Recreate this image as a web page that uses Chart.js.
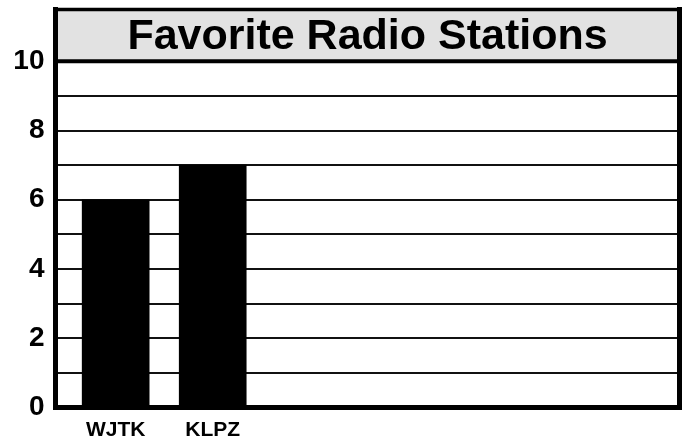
<!DOCTYPE html>
<html>
<head>
<meta charset="utf-8">
<script src="https://cdn.jsdelivr.net/npm/chart.js@4/dist/chart.umd.min.js"></script>
<style>
  html, body { margin: 0; padding: 0; background: #ffffff; }
  #wrap { width: 686px; height: 440px; }
</style>
</head>
<body>
<div id="wrap"><canvas id="c" width="686" height="440"></canvas></div>
<script>
const chartTitle = 'Favorite Radio Stations';
const categories = ['WJTK', 'KLPZ'];
const votes = [6, 7];
const yTicks = [0, 2, 4, 6, 8, 10];

const FONT = "'Liberation Sans', Arial, Helvetica, sans-serif";

const framePlugin = {
  id: 'frame',
  beforeDraw(chart) {
    const { ctx, chartArea: a } = chart;
    ctx.save();
    ctx.fillStyle = '#e2e2e2';
    ctx.fillRect(a.left, 9.5, a.right - a.left, a.top - 9.5);
    ctx.restore();
  },
  afterDraw(chart) {
    const { ctx, chartArea: a } = chart;
    ctx.save();
    ctx.strokeStyle = '#000';
    ctx.lineCap = 'square';
    ctx.lineWidth = 5;
    ctx.beginPath();
    ctx.moveTo(a.left, 9.5); ctx.lineTo(a.left, a.bottom);
    ctx.lineTo(a.right, a.bottom); ctx.lineTo(a.right, 9.5);
    ctx.stroke();
    ctx.lineWidth = 3.5;
    ctx.beginPath();
    ctx.moveTo(a.left, 9.5); ctx.lineTo(a.right, 9.5);
    ctx.stroke();
    ctx.lineWidth = 4;
    ctx.beginPath();
    ctx.moveTo(a.left, a.top); ctx.lineTo(a.right, a.top);
    ctx.stroke();
    ctx.restore();
  }
};

new Chart(document.getElementById('c'), {
  type: 'bar',
  data: {
    datasets: [{
      data: categories.map((c, i) => ({ x: i, y: votes[i] })),
      backgroundColor: '#000',
      borderWidth: 0,
      barThickness: 67
    }]
  },
  options: {
    responsive: false,
    animation: false,
    layout: { padding: { left: 0, right: 6.5, top: 0, bottom: 0 } },
    plugins: {
      legend: { display: false },
      tooltip: { enabled: false },
      title: {
        display: true,
        fullSize: false,
        text: chartTitle,
        color: '#000',
        font: { family: FONT, size: 43, weight: 'bold', lineHeight: 1.1 },
        padding: { top: 13, bottom: 1 }
      }
    },
    scales: {
      x: {
        type: 'linear',
        offset: false,
        min: -0.62,
        max: 5.81,
        afterBuildTicks(scale) { scale.ticks = categories.map((c, i) => ({ value: i })); },
        afterFit(scale) { scale.height = 32.5; },
        grid: { display: false, drawTicks: false, offset: false },
        border: { display: false },
        ticks: {
          autoSkip: false,
          maxRotation: 0,
          padding: 10,
          color: '#000',
          font: { family: FONT, size: 21, weight: 'bold' },
          callback: (v) => categories[v] !== undefined ? categories[v] : ''
        }
      },
      y: {
        min: 0,
        max: 10,
        afterFit(scale) { scale.width = 55.5; },
        grid: { color: '#111', lineWidth: 2, drawTicks: false },
        border: { display: false },
        ticks: {
          stepSize: 1,
          autoSkip: false,
          padding: 11,
          color: '#000',
          font: { family: FONT, size: 28, weight: 'bold' },
          callback: (v) => yTicks.includes(v) ? String(v) : ''
        }
      }
    }
  },
  plugins: [framePlugin]
});
</script>
</body>
</html>
